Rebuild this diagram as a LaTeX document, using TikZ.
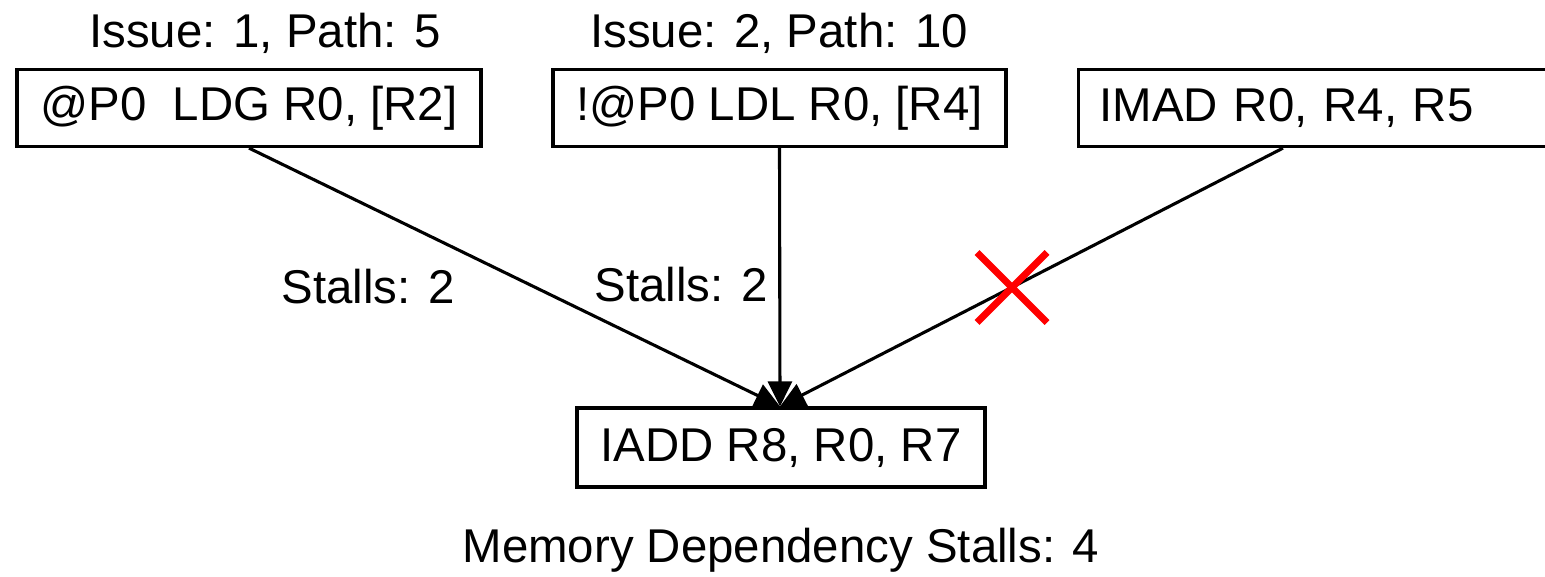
\documentclass[tikz,border=0pt]{standalone}
\usepackage{fontspec}
\setmainfont{Liberation Sans}
\usetikzlibrary{arrows.meta,calc}
\tikzset{
  instr/.style={draw=black, line width=3.2pt, inner sep=0pt, minimum height=77pt,
    font=\fontsize{47.4}{56}\selectfont},
  lbl/.style={inner sep=0pt, font=\fontsize{47.4}{56}\selectfont},
  dep/.style={line width=3.1pt, -{Triangle[length=25pt,width=24pt]}},
  cross/.style={draw=red, line width=7pt},
}
\begin{document}
\begin{tikzpicture}[x=1pt,y=-1pt]
\useasboundingbox (0,0) rectangle (1545,576);
\clip (0,0) rectangle (1545,576);
\fill[white] (0,0) rectangle (1545,576);

% instructions
\node[instr, minimum width=464pt] (ldg) at (249,108) {@P0\ \ LDG R0, [R2]};
\node[instr, minimum width=453pt] (ldl) at (779.5,108) {!@P0 LDL R0, [R4]};
\node[instr, minimum width=540pt, text width=498pt, inner xsep=21pt, align=left, anchor=west]
  (imad) at (1077,108) {IMAD R0, R4, R5};
\node[instr, minimum width=408pt, minimum height=79pt] (iadd) at (781,447.5) {IADD R8, R0, R7};

% issue / path annotations
\node[lbl] (iss1) at (265,33) {Issue: 1, Path: 5};
\node[lbl] (iss2) at (779,33) {Issue: 2, Path: 10};

% dependency edges
\coordinate (imadout) at ($(imad.south west)+(206,0)$);
\coordinate (sink) at ($(iadd.north)+(-1,0)$);
\draw[dep] (ldg.south) -- (sink);
\draw[dep] (ldl.south) -- (sink);
\draw[dep] (imadout) -- (sink);

% edge labels
\node[lbl] (st1) at (368,287) {Stalls: 2};
\node[lbl] (st2) at (681,285) {Stalls: 2};

% removed dependency
\coordinate (xc) at (1012,287.5);
\draw[cross] ($(xc)+(-35,-35)$) -- ($(xc)+(35,35)$);
\draw[cross] ($(xc)+(-35,35)$) -- ($(xc)+(35,-35)$);

% summary
\node[lbl] (sum) at (781,550) {Memory Dependency Stalls: 4};
\end{tikzpicture}
\end{document}
